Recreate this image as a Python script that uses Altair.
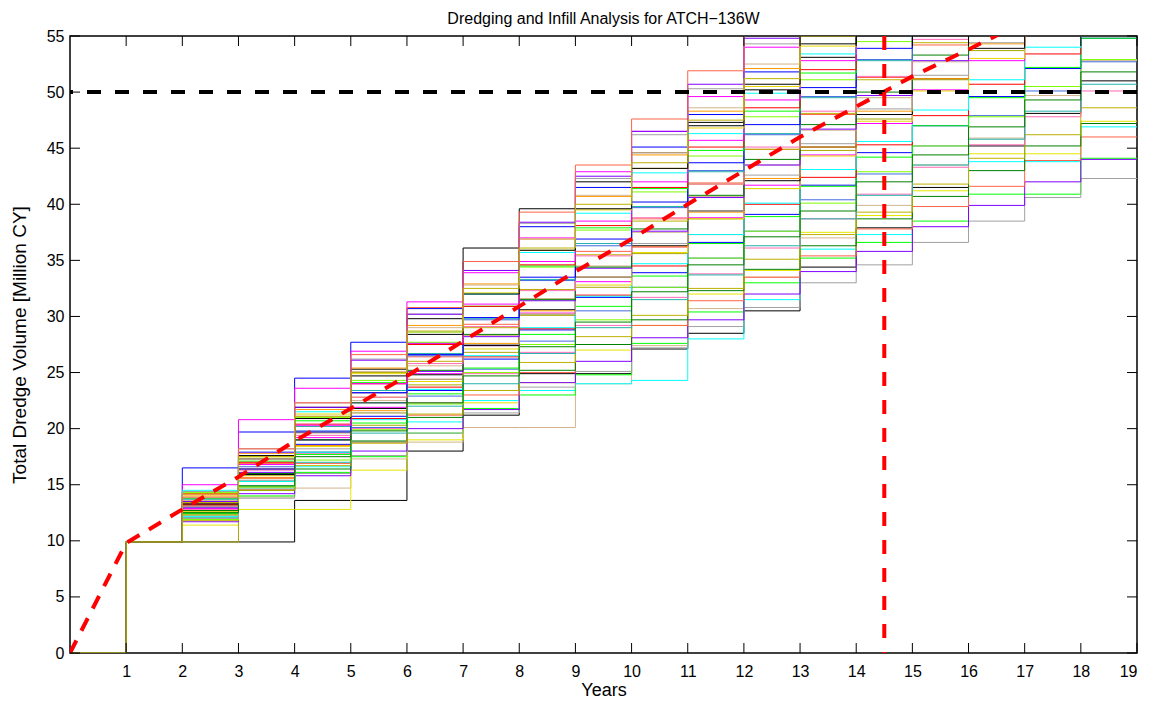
import altair as alt
import pandas as pd

# ---------------- data ----------------
years = list(range(0, 20))
first_year_volume = 9.9

# annual dredge volumes (million CY) for years 2..18 of each simulation
annual_volumes = [
    [0.0, 0.0, 3.7, 0.0, 4.4, 3.2, 3.7, 0.0, 2.2, 1.4, 2.0, 3.9, 3.5, 3.6, 3.7, 2.9, 2.9],
    [2.1, 1.9, 0.8, 2.6, 1.5, 1.3, 0.0, 3.9, 3.4, 3.3, 2.8, 3.5, 2.9, 3.6, 2.4, 3.8, 3.1],
    [2.3, 2.5, 1.9, 2.2, 1.8, 1.9, 0.9, 0.6, 0.3, 3.7, 3.5, 4.5, 1.3, 2.5, 4.0, 0.0, 3.1],
    [2.5, 1.6, 2.1, 1.4, 2.1, 2.2, 1.2, 1.8, 2.8, 2.8, 2.6, 2.2, 1.4, 1.9, 2.4, 0.0, 3.2],
    [1.5, 1.4, 0.0, 3.5, 2.7, 3.3, 1.8, 2.9, 2.2, 2.8, 2.1, 3.4, 1.5, 2.2, 3.3, 0.0, 2.9],
    [0.0, 4.9, 3.1, 2.4, 3.6, 2.9, 3.3, 2.5, 3.0, 3.1, 2.7, 3.4, 2.8, 3.5, 2.6, 3.0, 3.2],
    [6.6, 3.2, 4.8, 3.2, 3.0, 4.2, 3.1, 3.5, 3.6, 2.9, 3.8, 3.4, 3.2, 3.6, 3.0, 2.8, 3.3],
    [5.1, 5.8, 2.8, 3.3, 4.4, 2.6, 3.1, 5.9, 3.6, 3.1, 4.4, 3.0, 3.2, 2.8, 3.0, 2.6, 3.1],
    [4.3, 3.4, 4.3, 3.4, 4.5, 6.3, 3.5, 2.4, 2.6, 2.7, 2.9, 2.9, 3.1, 2.8, 3.0, 3.2, 2.7],
    [2.4, 1.5, 2.2, 1.6, 2.0, 1.8, 2.3, 1.4, 2.1, 1.9, 1.7, 2.2, 1.6, 2.0, 1.9, 2.1, 1.7],
    [1.8, 2.5, 1.6, 2.2, 2.0, 1.7, 2.4, 1.9, 2.1, 1.6, 2.3, 2.0, 1.8, 2.2, 1.9, 2.1, 2.0],
    [3.0, 1.7, 2.3, 1.9, 2.4, 1.8, 2.0, 2.5, 1.7, 2.2, 2.1, 1.9, 2.4, 2.0, 1.8, 2.3, 2.1],
    [2.6, 2.0, 1.9, 2.5, 2.1, 2.4, 1.8, 2.3, 2.2, 2.6, 1.9, 2.1, 2.4, 2.0, 2.3, 2.2, 2.0],
    [1.9, 2.7, 2.2, 2.0, 2.6, 2.1, 2.5, 2.3, 1.9, 2.4, 2.6, 2.2, 2.0, 2.5, 2.3, 2.1, 2.4],
    [3.4, 2.0, 2.5, 2.2, 2.3, 2.6, 1.9, 2.4, 2.5, 2.1, 2.3, 2.6, 2.2, 2.4, 2.0, 2.5, 2.3],
    [2.2, 2.8, 2.1, 2.6, 2.4, 2.0, 2.7, 2.3, 2.5, 2.2, 2.6, 2.4, 2.1, 2.7, 2.3, 2.5, 2.4],
    [3.1, 2.3, 2.6, 2.2, 2.8, 2.4, 2.5, 2.7, 2.1, 2.6, 2.4, 2.8, 2.3, 2.5, 2.7, 2.2, 2.6],
    [2.0, 2.9, 2.4, 2.7, 2.3, 2.8, 2.5, 2.2, 2.9, 2.6, 2.4, 2.5, 2.8, 2.3, 2.6, 2.7, 2.4],
    [3.6, 2.4, 2.7, 2.5, 2.3, 2.8, 2.6, 2.9, 2.2, 2.7, 2.5, 2.6, 2.9, 2.4, 2.6, 2.5, 2.7],
    [2.5, 2.9, 2.4, 2.8, 2.6, 2.3, 3.0, 2.5, 2.7, 2.9, 2.4, 2.7, 2.6, 2.8, 2.5, 2.7, 2.6],
    [3.2, 2.5, 2.9, 2.4, 2.8, 2.7, 2.5, 3.0, 2.6, 2.8, 2.7, 2.4, 2.9, 2.6, 2.8, 2.7, 2.6],
    [2.3, 3.1, 2.6, 2.9, 2.7, 3.0, 2.5, 2.8, 2.9, 2.6, 2.8, 3.0, 2.5, 2.8, 2.7, 2.9, 2.7],
    [3.9, 2.6, 2.8, 2.7, 3.0, 2.5, 2.9, 2.8, 3.1, 2.6, 2.9, 2.7, 2.8, 3.0, 2.6, 2.8, 2.9],
    [2.7, 3.2, 2.6, 3.0, 2.8, 2.9, 3.1, 2.6, 2.9, 3.0, 2.7, 2.9, 3.1, 2.7, 2.9, 2.8, 3.0],
    [3.3, 2.7, 3.1, 2.8, 3.0, 2.6, 3.2, 2.9, 2.8, 3.1, 2.7, 3.0, 2.9, 3.2, 2.7, 3.0, 2.8],
    [2.4, 3.3, 2.9, 3.1, 2.8, 3.2, 2.9, 3.0, 2.7, 3.1, 3.0, 2.8, 3.2, 2.9, 3.1, 2.8, 3.0],
    [3.7, 2.8, 3.2, 2.9, 3.1, 2.7, 3.3, 2.9, 3.0, 3.2, 2.8, 3.1, 2.9, 3.2, 2.8, 3.1, 3.0],
    [2.1, 3.4, 2.8, 3.2, 3.0, 3.1, 2.7, 3.3, 3.0, 2.9, 3.2, 2.8, 3.1, 3.0, 2.9, 3.2, 3.0],
    [3.0, 3.2, 2.9, 3.3, 2.8, 3.1, 3.2, 2.9, 3.3, 3.0, 2.9, 3.2, 3.0, 3.1, 2.9, 3.2, 3.0],
    [4.2, 2.8, 3.3, 3.0, 3.2, 2.9, 3.1, 3.4, 2.9, 3.2, 3.0, 3.1, 3.3, 2.9, 3.1, 3.2, 3.0],
    [2.6, 3.5, 3.0, 3.3, 2.9, 3.2, 3.1, 2.9, 3.4, 3.0, 3.2, 3.1, 2.9, 3.3, 3.1, 3.0, 3.2],
    [3.5, 3.0, 3.3, 3.1, 3.2, 3.0, 3.4, 3.1, 3.0, 3.3, 3.1, 3.2, 3.0, 3.3, 3.1, 3.2, 3.1],
    [2.9, 3.5, 3.1, 3.4, 3.0, 3.3, 3.2, 3.1, 3.4, 3.0, 3.3, 3.2, 3.1, 3.3, 3.2, 3.1, 3.3],
    [3.8, 3.1, 3.4, 3.2, 3.3, 3.1, 3.5, 3.2, 3.3, 3.1, 3.4, 3.2, 3.3, 3.2, 3.3, 3.1, 3.4],
    [3.1, 3.6, 3.2, 3.4, 3.3, 3.2, 3.5, 3.1, 3.4, 3.3, 3.2, 3.4, 3.3, 3.2, 3.4, 3.3, 3.2],
    [4.4, 3.2, 3.5, 3.3, 3.4, 3.2, 3.5, 3.3, 3.4, 3.2, 3.5, 3.3, 3.4, 3.3, 3.4, 3.3, 3.4],
    [2.8, 3.7, 3.3, 3.5, 3.4, 3.3, 3.6, 3.4, 3.3, 3.5, 3.4, 3.3, 3.5, 3.4, 3.3, 3.5, 3.4],
    [3.9, 3.3, 3.6, 3.4, 3.5, 3.3, 3.6, 3.4, 3.5, 3.4, 3.5, 3.4, 3.5, 3.4, 3.5, 3.4, 3.5],
    [3.3, 3.8, 3.4, 3.6, 3.5, 3.4, 3.7, 3.5, 3.4, 3.6, 3.5, 3.4, 3.6, 3.5, 3.4, 3.6, 3.5],
    [4.6, 3.4, 3.6, 3.5, 3.6, 3.4, 3.7, 3.5, 3.6, 3.5, 3.6, 3.5, 3.6, 3.5, 3.6, 3.5, 3.6],
    [3.0, 3.9, 3.5, 3.7, 3.6, 3.5, 3.8, 3.6, 3.5, 3.7, 3.6, 3.5, 3.7, 3.6, 3.5, 3.7, 3.6],
    [4.1, 3.5, 3.8, 3.6, 3.7, 3.5, 3.8, 3.6, 3.7, 3.6, 3.7, 3.6, 3.7, 3.6, 3.7, 3.6, 3.7],
    [3.4, 4.0, 3.6, 3.8, 3.7, 3.6, 3.9, 3.7, 3.6, 3.8, 3.7, 3.6, 3.8, 3.7, 3.6, 3.8, 3.7],
    [4.3, 3.6, 3.9, 3.7, 3.8, 3.7, 4.0, 3.8, 3.7, 3.9, 3.8, 3.7, 3.9, 3.8, 3.7, 3.9, 3.8],
    [3.2, 4.2, 3.8, 4.0, 3.9, 3.8, 4.1, 3.9, 3.8, 4.0, 3.9, 3.8, 4.0, 3.9, 3.8, 4.0, 3.9],
    [4.5, 3.8, 4.1, 3.9, 4.0, 3.9, 4.2, 4.0, 3.9, 4.1, 4.0, 3.9, 4.1, 4.0, 3.9, 4.1, 4.0],
    [3.6, 4.4, 4.0, 4.2, 4.1, 3.9, 4.3, 4.1, 4.0, 4.2, 4.1, 4.0, 4.2, 4.1, 4.0, 4.2, 4.1],
    [4.0, 4.3, 4.1, 4.3, 4.2, 4.1, 4.4, 4.2, 4.1, 4.3, 4.2, 4.1, 4.3, 4.2, 4.1, 4.3, 4.2],
    [2.8, 2.2, 2.6, 2.3, 2.5, 2.4, 2.6, 2.2, 2.7, 2.4, 2.5, 2.3, 2.6, 2.4, 2.5, 2.4, 2.5],
    [3.5, 4.1, 3.6, 3.9, 3.7, 3.8, 3.6, 3.9, 3.7, 3.8, 3.7, 3.8, 3.7, 3.8, 3.7, 3.8, 3.7],
]

palette = ["#0000FF", "#00FF00", "#FF0000", "#00FFFF", "#FF00FF", "#E6D800",
           "#000000", "#FF9900", "#D2B48C", "#A0A0A0", "#7F00FF", "#FF6347",
           "#008000", "#BDB000", "#FF69B4", "#20B2AA", "#4169E1", "#7CFC00"]
sim_colors = ["#000000", "#D2B48C", "#00FFFF", "#00FF00", "#E6E600", "#A8A800",
              "#0000FF", "#FF00FF", "#000000"]

mean_volume = [0, 9.8, 12.8, 15.7, 18.9, 21.8, 24.7, 27.8, 30.9, 34.0,
               36.9, 40.0, 43.0, 46.0, 48.7, 51.4, 53.8, 56.3, 58.6, 61.0]
target_volume = 50
crossing_year = 14.5
x_ticks = list(range(1, 20))
y_ticks = list(range(0, 60, 5))

# ---------------- tables ----------------
rows = []
names = []
colors = []
for i, inc in enumerate(annual_volumes):
    name = f"s{i:02d}"
    names.append(name)
    colors.append(sim_colors[i] if i < len(sim_colors) else palette[i % len(palette)])
    cum = [0.0, first_year_volume]
    for v in inc:
        cum.append(round(cum[-1] + v, 3))
    cum.append(cum[-1])
    for x, y in zip(years, cum):
        rows.append({"sim": name, "year": x, "volume": y})
sims = pd.DataFrame(rows)
mean_df = pd.DataFrame({"year": years, "volume": mean_volume})
xt = pd.DataFrame({"year": x_ticks})
yt = pd.DataFrame({"volume": y_ticks})

W, H = 1067, 617
FONT = "Liberation Sans"

xscale = alt.Scale(domain=[0, 19], nice=False, zero=False)
yscale = alt.Scale(domain=[0, 55], nice=False)
x_axis = alt.Axis(values=x_ticks, title="Years", ticks=False, tickSize=0, domain=False, grid=False,
                  labelPadding=10, titleY=42, titleBaseline="alphabetic", titleFontSize=18,
                  format="d")
y_axis = alt.Axis(values=y_ticks, title="Total Dredge Volume [Million CY]", ticks=False, tickSize=0,
                  domain=False, grid=False, labelPadding=6, titlePadding=17, format="d")


def X():
    return alt.X("year:Q", scale=xscale, axis=x_axis)


def Y():
    return alt.Y("volume:Q", scale=yscale, axis=y_axis)


lines = alt.Chart(sims).mark_line(interpolate="step-after", strokeWidth=1, clip=True).encode(
    x=X(), y=Y(),
    color=alt.Color("sim:N", scale=alt.Scale(domain=names, range=colors), legend=None),
    detail="sim:N",
)

mean_line = alt.Chart(mean_df).mark_line(color="#FF0000", strokeWidth=4, strokeDash=[14, 11],
                                         clip=True).encode(x=X(), y=Y())

target = alt.Chart(pd.DataFrame({"volume": [target_volume]})).mark_rule(
    color="black", strokeWidth=4, strokeDash=[14, 14]).encode(y=Y())

cross = alt.Chart(pd.DataFrame({"year": [crossing_year]})).mark_rule(
    color="#FF0000", strokeWidth=4, strokeDash=[14, 14]).encode(x=X())

tick_style = dict(color="black", strokeWidth=1)
bottom_ticks = alt.Chart(xt).mark_rule(**tick_style).encode(
    x=X(), y=alt.value(H), y2=alt.value(H - 10))
top_ticks = alt.Chart(xt).mark_rule(**tick_style).encode(
    x=X(), y=alt.value(0), y2=alt.value(10))
left_ticks = alt.Chart(yt).mark_rule(**tick_style).encode(
    y=Y(), x=alt.value(0), x2=alt.value(10))
right_ticks = alt.Chart(yt).mark_rule(**tick_style).encode(
    y=Y(), x=alt.value(W), x2=alt.value(W - 10))

chart = alt.layer(
    lines, mean_line, target, cross, bottom_ticks, top_ticks, left_ticks, right_ticks
).properties(
    width=W, height=H,
    title=alt.TitleParams("Dredging and Infill Analysis for ATCH\u2212136W", fontSize=16,
                          fontWeight="normal", font=FONT, color="black", offset=1.5),
    autosize=alt.AutoSizeParams(type="none"),
    padding={"left": 62, "top": 28, "right": 11, "bottom": 48},
    background="white",
).configure_view(stroke="black", strokeWidth=1.5).configure_axis(
    labelFont=FONT, labelFontSize=16, labelColor="black",
    titleFont=FONT, titleFontSize=19, titleFontWeight="normal", titleColor="black",
)

chart.save("out.html", embed_options={"renderer": "svg", "actions": False})
